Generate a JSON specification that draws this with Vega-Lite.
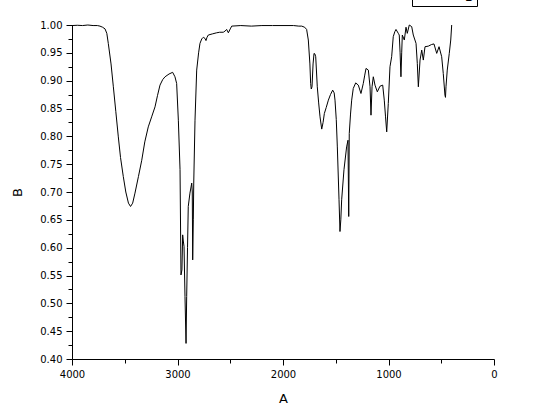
{
  "$schema": "https://vega.github.io/schema/vega-lite/v6.json",
  "width": 422,
  "height": 334,
  "autosize": {"type": "none"},
  "padding": {"left": 72, "top": 25, "right": 52, "bottom": 46},
  "background": "white",
  "title": {"text": "1", "orient": "bottom", "anchor": "end", "fontSize": 9, "fontWeight": "normal", "font": "DejaVu Sans", "color": "black", "dx": 45, "offset": 1},
  "data": {"values": [
    {"x":4000,"y":0.999},{"x":3950,"y":0.9995},{"x":3900,"y":0.999},{"x":3850,"y":1.0},{"x":3800,"y":0.999},{"x":3760,"y":0.999},{"x":3735,"y":0.998},{"x":3710,"y":0.996},{"x":3687,"y":0.993},{"x":3670,"y":0.985},{"x":3656,"y":0.967},{"x":3630,"y":0.93},{"x":3608,"y":0.889},{"x":3585,"y":0.845},{"x":3561,"y":0.799},{"x":3540,"y":0.762},{"x":3514,"y":0.728},{"x":3490,"y":0.7},{"x":3465,"y":0.68},{"x":3445,"y":0.674},{"x":3425,"y":0.68},{"x":3403,"y":0.698},{"x":3370,"y":0.728},{"x":3339,"y":0.757},{"x":3310,"y":0.79},{"x":3277,"y":0.817},{"x":3245,"y":0.835},{"x":3213,"y":0.853},{"x":3190,"y":0.873},{"x":3166,"y":0.892},{"x":3140,"y":0.902},{"x":3118,"y":0.907},{"x":3080,"y":0.912},{"x":3046,"y":0.915},{"x":3024,"y":0.907},{"x":3008,"y":0.895},{"x":2992,"y":0.829},{"x":2976,"y":0.74},{"x":2967,"y":0.551},{"x":2958,"y":0.56},{"x":2951,"y":0.623},{"x":2945,"y":0.612},{"x":2938,"y":0.602},{"x":2929,"y":0.512},{"x":2919,"y":0.428},{"x":2913,"y":0.512},{"x":2905,"y":0.6},{"x":2898,"y":0.674},{"x":2882,"y":0.698},{"x":2865,"y":0.716},{"x":2860,"y":0.7},{"x":2856,"y":0.578},{"x":2850,"y":0.65},{"x":2846,"y":0.716},{"x":2834,"y":0.829},{"x":2818,"y":0.919},{"x":2800,"y":0.95},{"x":2787,"y":0.967},{"x":2770,"y":0.975},{"x":2755,"y":0.978},{"x":2740,"y":0.976},{"x":2730,"y":0.972},{"x":2720,"y":0.978},{"x":2708,"y":0.982},{"x":2670,"y":0.984},{"x":2629,"y":0.986},{"x":2600,"y":0.987},{"x":2566,"y":0.987},{"x":2550,"y":0.989},{"x":2534,"y":0.992},{"x":2518,"y":0.986},{"x":2500,"y":0.993},{"x":2486,"y":0.998},{"x":2400,"y":0.999},{"x":2300,"y":0.998},{"x":2200,"y":0.999},{"x":2100,"y":0.999},{"x":2000,"y":0.999},{"x":1900,"y":0.999},{"x":1850,"y":0.998},{"x":1823,"y":0.998},{"x":1795,"y":0.996},{"x":1776,"y":0.992},{"x":1760,"y":0.973},{"x":1745,"y":0.93},{"x":1738,"y":0.895},{"x":1732,"y":0.885},{"x":1725,"y":0.889},{"x":1715,"y":0.93},{"x":1706,"y":0.949},{"x":1698,"y":0.948},{"x":1690,"y":0.943},{"x":1675,"y":0.889},{"x":1662,"y":0.86},{"x":1649,"y":0.835},{"x":1633,"y":0.813},{"x":1620,"y":0.825},{"x":1608,"y":0.841},{"x":1590,"y":0.852},{"x":1570,"y":0.865},{"x":1550,"y":0.875},{"x":1529,"y":0.883},{"x":1515,"y":0.878},{"x":1507,"y":0.865},{"x":1495,"y":0.83},{"x":1485,"y":0.781},{"x":1469,"y":0.686},{"x":1460,"y":0.629},{"x":1452,"y":0.65},{"x":1444,"y":0.686},{"x":1422,"y":0.74},{"x":1397,"y":0.781},{"x":1384,"y":0.793},{"x":1377,"y":0.656},{"x":1372,"y":0.805},{"x":1360,"y":0.84},{"x":1349,"y":0.865},{"x":1334,"y":0.886},{"x":1311,"y":0.896},{"x":1286,"y":0.892},{"x":1261,"y":0.877},{"x":1239,"y":0.895},{"x":1225,"y":0.91},{"x":1213,"y":0.922},{"x":1191,"y":0.919},{"x":1175,"y":0.889},{"x":1166,"y":0.838},{"x":1156,"y":0.889},{"x":1144,"y":0.907},{"x":1128,"y":0.892},{"x":1106,"y":0.88},{"x":1081,"y":0.89},{"x":1055,"y":0.892},{"x":1040,"y":0.865},{"x":1028,"y":0.835},{"x":1017,"y":0.808},{"x":1002,"y":0.859},{"x":986,"y":0.925},{"x":970,"y":0.943},{"x":955,"y":0.979},{"x":940,"y":0.988},{"x":929,"y":0.992},{"x":907,"y":0.985},{"x":898,"y":0.982},{"x":890,"y":0.95},{"x":882,"y":0.907},{"x":875,"y":0.95},{"x":869,"y":0.982},{"x":850,"y":0.973},{"x":834,"y":0.996},{"x":822,"y":0.985},{"x":803,"y":1.0},{"x":780,"y":0.997},{"x":765,"y":0.982},{"x":739,"y":0.967},{"x":727,"y":0.931},{"x":717,"y":0.889},{"x":701,"y":0.937},{"x":685,"y":0.955},{"x":670,"y":0.937},{"x":654,"y":0.961},{"x":623,"y":0.962},{"x":591,"y":0.965},{"x":569,"y":0.966},{"x":543,"y":0.949},{"x":521,"y":0.961},{"x":496,"y":0.943},{"x":481,"y":0.913},{"x":465,"y":0.874},{"x":460,"y":0.87},{"x":455,"y":0.889},{"x":443,"y":0.919},{"x":424,"y":0.949},{"x":410,"y":0.973},{"x":401,"y":1.0}
  ]},
  "layer": [
    {
      "mark": {"type": "line", "strokeWidth": 1, "interpolate": "linear"},
      "encoding": {
        "x": {"field": "x", "type": "quantitative", "scale": {"domain": [4000, 0], "nice": false, "zero": false},
              "axis": {"title": "A", "values": [4000, 3000, 2000, 1000, 0], "format": "d", "tickSize": 6, "labelPadding": 4, "titlePadding": 13, "labelFlush": false}},
        "y": {"field": "y", "type": "quantitative", "scale": {"domain": [0.4, 1.0], "nice": false, "zero": false},
              "axis": {"title": "B", "values": [0.4,0.45,0.5,0.55,0.6,0.65,0.7,0.75,0.8,0.85,0.9,0.95,1.0], "format": ".2f", "tickSize": 6, "labelPadding": 4, "titlePadding": 15, "labelFlush": false}},
        "color": {"datum": "B", "type": "nominal", "scale": {"range": ["black"]},
                  "legend": {"title": null, "orient": "none", "legendX": 340, "legendY": -39, "strokeColor": "black", "padding": 3, "symbolType": "stroke", "symbolSize": 200, "symbolStrokeWidth": 1, "labelOffset": 34, "labelFontSize": 12, "labelFont": "DejaVu Sans", "labelColor": "black", "fillColor": "white", "cornerRadius": 0}}
      }
    },
    {
      "mark": {"type": "line", "opacity": 0},
      "encoding": {
        "x": {"field": "x", "type": "quantitative", "axis": {"title": null, "orient": "bottom", "values": [3500, 2500, 1500, 500], "labels": false, "domain": false, "tickSize": 4}},
        "y": {"field": "y", "type": "quantitative", "axis": {"title": null, "orient": "left", "values": [0.425,0.475,0.525,0.575,0.625,0.675,0.725,0.775,0.825,0.875,0.925,0.975], "labels": false, "domain": false, "tickSize": 4}}
      }
    }
  ],
  "resolve": {"axis": {"x": "independent", "y": "independent"}},
  "config": {
    "view": {"stroke": null},
    "axis": {"grid": false, "domainColor": "black", "tickColor": "black", "labelColor": "black", "titleColor": "black", "labelFont": "DejaVu Sans", "labelFontSize": 10, "titleFont": "DejaVu Sans", "titleFontSize": 13, "titleFontWeight": "normal", "domainWidth": 1, "tickWidth": 1}
  }
}
